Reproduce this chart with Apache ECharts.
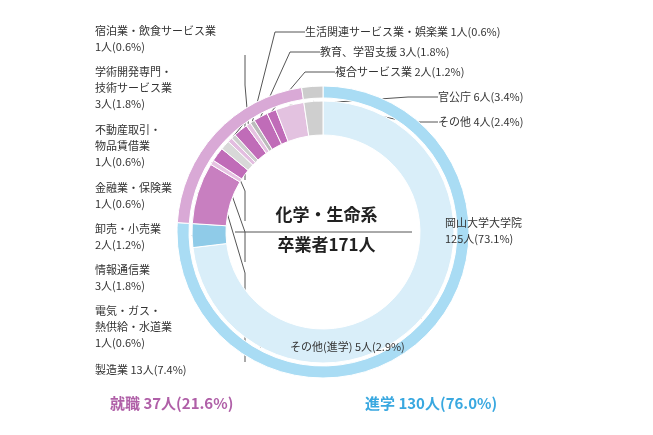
<!DOCTYPE html>
<html><head><meta charset="utf-8">
<script src="https://cdn.jsdelivr.net/npm/echarts@6/dist/echarts.min.js"></script>
<style>html,body{margin:0;background:#fff}#c{width:653px;height:435px}</style>
</head><body><div id="c"></div>
<script>
const innerNames = ['岡山大学大学院','その他(進学)','製造業','電気・ガス・熱供給・水道業','情報通信業','卸売・小売業','金融業・保険業','不動産取引・物品賃借業','学術開発専門・技術サービス業','宿泊業・飲食サービス業','生活関連サービス業・娯楽業','教育、学習支援','複合サービス業','官公庁','その他'];
const innerValues = [125,5,13,1,3,2,1,1,3,1,1,3,2,6,4];
const innerLabels = ['岡山大学大学院\n125人(73.1%)','その他(進学) 5人(2.9%)','製造業 13人(7.4%)','電気・ガス・\n熱供給・水道業\n1人(0.6%)','情報通信業\n3人(1.8%)','卸売・小売業\n2人(1.2%)','金融業・保険業\n1人(0.6%)','不動産取引・\n物品賃借業\n1人(0.6%)','学術開発専門・\n技術サービス業\n3人(1.8%)','宿泊業・飲食サービス業\n1人(0.6%)','生活関連サービス業・娯楽業 1人(0.6%)','教育、学習支援 3人(1.8%)','複合サービス業 2人(1.2%)','官公庁 6人(3.4%)','その他 4人(2.4%)'];
const outerNames = ['進学','就職','その他'];
const outerValues = [130,37,4];
const totalLabel = '卒業者171人';
const summary = ['就職 37人(21.6%)','進学 130人(76.0%)'];

const innerColors = ['#d9eef9','#8fcbe8','#c87fc0','#e6c3e2','#c06cb8','#d8d8d8','#e3bde0','#cfcfcf','#c06cb8','#e6c3e2','#bbbbbb','#c06cb8','#c06cb8','#e3c2e0','#cfcfcf'];
const outerColors = ['#a9dcf4','#d9a9d6','#cccccc'];
const pos = [[445,231,'left'],[290,347,'left'],[95,370,'left'],[95,327,'left'],[95,278,'left'],[95,237,'left'],[95,196,'left'],[95,146,'left'],[95,88,'left'],[95,39,'left'],[305,32,'left'],[320,52,'left'],[335,72,'left'],[438,97,'left'],[438,122,'left']];

const chart = echarts.init(document.getElementById('c'));
chart.setOption({
  animation:false,
  textStyle:{fontFamily:'"Noto Sans CJK JP",sans-serif'},
  series:[
    {type:'pie',radius:[134,146],center:[323,232],startAngle:90,silent:true,
     itemStyle:{borderColor:'#fff',borderWidth:1},label:{show:false},labelLine:{show:false},
     data:outerNames.map((n,i)=>({name:n,value:outerValues[i],itemStyle:{color:outerColors[i]}}))},
    {type:'pie',radius:[97,131],center:[323,232],startAngle:90,
     itemStyle:{borderColor:'#fff',borderWidth:1},
     label:{show:true,color:'#333',fontSize:11,lineHeight:16,overflow:'none',width:300,formatter:p=>innerLabels[p.dataIndex]},
     labelLine:{show:true,lineStyle:{color:'#555',width:1}},
     labelLayout:p=>({x:pos[p.dataIndex][0],y:pos[p.dataIndex][1],align:pos[p.dataIndex][2],verticalAlign:'middle',hideOverlap:false}),
     data:innerNames.map((n,i)=>({name:n,value:innerValues[i],itemStyle:{color:innerColors[i]}}))}
  ],
  graphic:[
    {type:'text',left:'center',top:206,style:{text:'化学・生命系',font:'bold 17px "Noto Sans CJK JP"',fill:'#222'}},
    {type:'line',shape:{x1:235,y1:232,x2:412,y2:232},style:{stroke:'#555',lineWidth:1}},
    {type:'text',left:'center',top:236,style:{text:totalLabel,font:'bold 17px "Noto Sans CJK JP"',fill:'#222'}},
    {type:'text',left:110,top:396,style:{text:summary[0],font:'bold 15px "Noto Sans CJK JP"',fill:'#b060a8'}},
    {type:'text',left:365,top:396,style:{text:summary[1],font:'bold 15px "Noto Sans CJK JP"',fill:'#39a8e0'}}
  ]
});
</script></body></html>
